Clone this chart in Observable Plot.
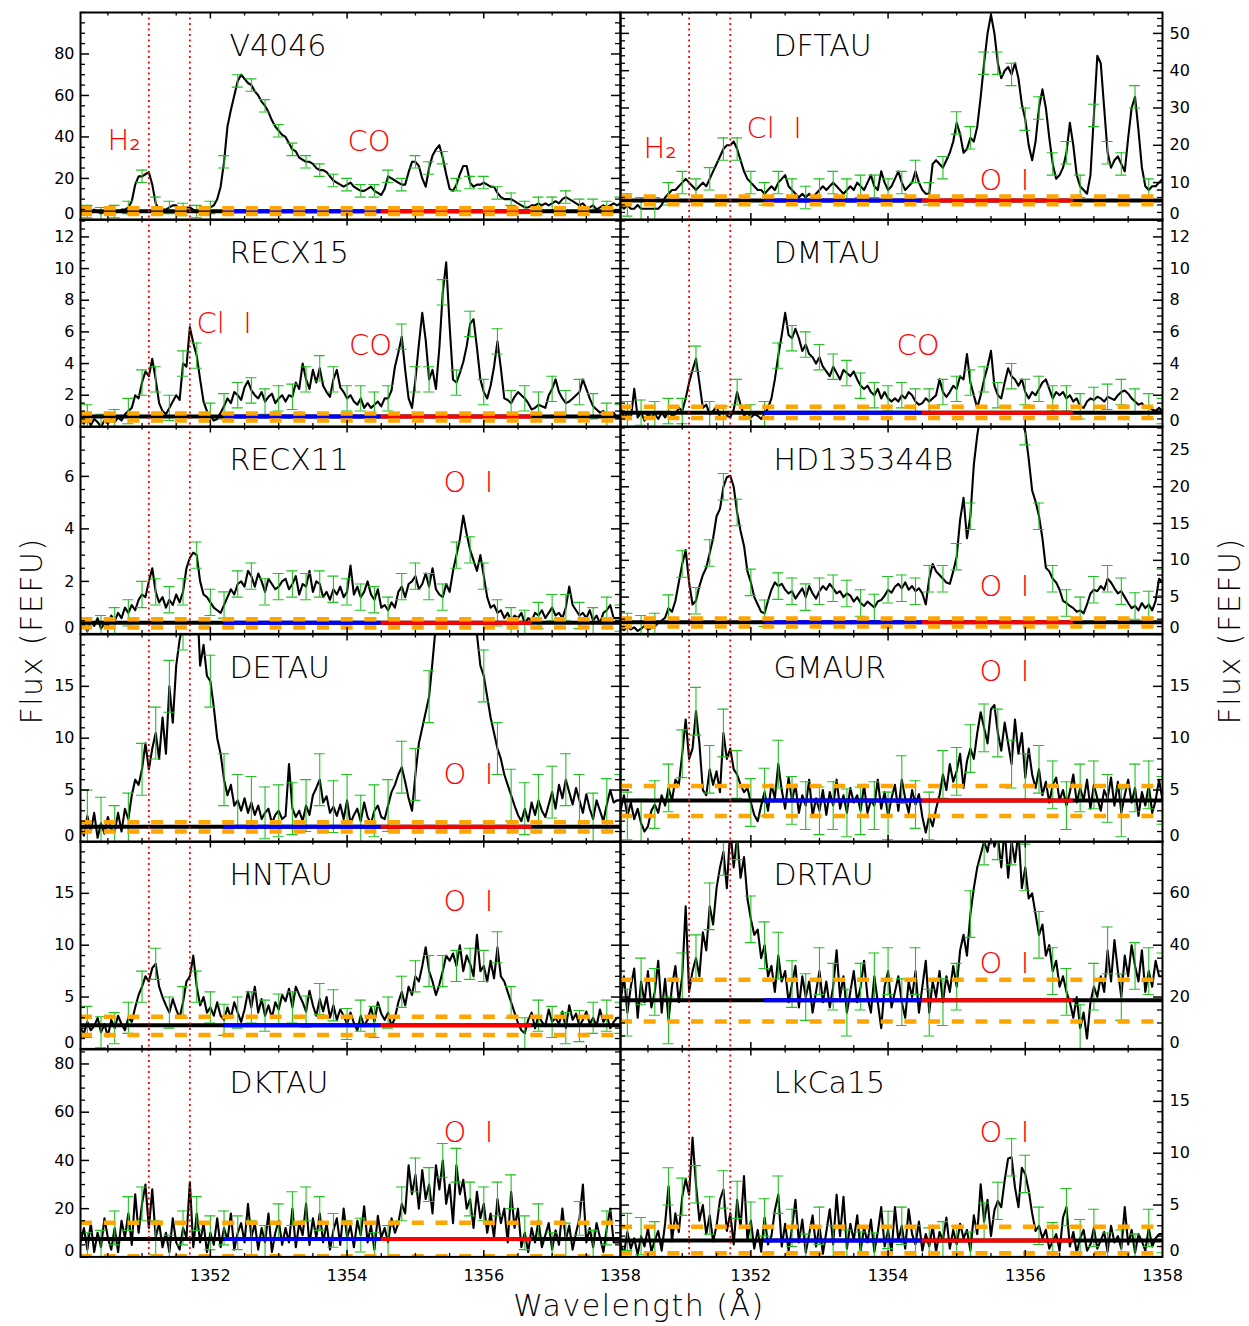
<!DOCTYPE html>
<html><head><meta charset="utf-8">
<script src="https://cdn.jsdelivr.net/npm/d3@7"></script>
<script src="https://cdn.jsdelivr.net/npm/@observablehq/plot@0.6"></script>
<style>
html,body{margin:0;padding:0;background:#fff;}
#fig{position:relative;width:1249px;height:1326px;background:#fff;overflow:hidden;font-family:"DejaVu Sans",sans-serif;}
.title{position:absolute;font-size:30px;letter-spacing:1.5px;color:#000;white-space:nowrap;font-weight:300;}
</style></head><body><div id="fig"></div>
<script>
// ---------------- data ----------------
const waveStart = 1350.1, waveStep = 0.05;
const xDomain = [1350.1, 1358.0];
const lineWaves = [1351.1, 1351.7];          // H2 and Cl I rest wavelengths (dotted)
const blueRange = [1352.2, 1354.5];
const redRange = [1354.5, 1356.7];
const xMajorTicks = [1352, 1354, 1356, 1358];
const xMinorTicks = [1350.5, 1351, 1351.5, 1352.5, 1353, 1353.5, 1354.5, 1355, 1355.5, 1356.5, 1357, 1357.5];

const stars = ["V4046","DFTAU","RECX15","DMTAU","RECX11","HD135344B","DETAU","GMAUR","HNTAU","DRTAU","DKTAU","LkCa15"];
const yMax = [100, 55.6, 13.1, 13.1, 7.9, 28.2, 20, 20, 20, 80, 86, 20];
const yTicks = [[0,20,40,60,80],[0,10,20,30,40,50],[0,2,4,6,8,10,12],[0,2,4,6,8,10,12],[0,2,4,6],
  [0,5,10,15,20,25],[0,5,10,15],[0,5,10,15],[0,5,10,15],[0,20,40,60],[0,20,40,60,80],[0,5,10,15]];
const yMinorStep = [5, 2, 0.5, 0.5, 0.5, 1, 1, 1, 1, 5, 5, 1];
const continuum  = [4.2, 5.2, 0.65, 0.9, 0.42, 1.58, 1.47, 4.0, 2.27, 18.8, 7.4, 1.58];
const upperLevel = [5.6, 6.3, 0.85, 1.27, 0.56, 2.1, 1.9, 5.4, 3.1, 26.7, 14.2, 2.9];
const lowerLevel = [2.8, 4.2, 0.4, 0.56, 0.24, 1.0, 1.0, 2.5, 1.34, 10.6, 0.3, 0.35];
const errSigma   = [3, 3, 0.8, 0.8, 0.5, 1.8, 2.5, 2.3, 1.5, 9, 7, 1.8];
const speciesLabels = [["H₂","CO"],["H₂","Cl\u00a0\u00a0I","O\u00a0\u00a0I"],["Cl\u00a0\u00a0I","CO"],["CO"],["O\u00a0\u00a0I"],["O\u00a0\u00a0I"],
  ["O\u00a0\u00a0I"],["O\u00a0\u00a0I"],["O\u00a0\u00a0I"],["O\u00a0\u00a0I"],["O\u00a0\u00a0I"],["O\u00a0\u00a0I"]];

// flux samples, 10 per row = 0.5 A per row, starting at 1350.10
const fluxV4046 = [
4,5,4,4,5,4,3,4,5,4, 4,4,5,5,6,9,17,21,21,22, 23,17,8,5,5,5,6,7,7,5, 5,6,6,5,4,4,4,5,6,7,
10,16,28,45,53,60,67,70,68,66, 65,62,60,57,55,52,48,45,43,41, 40,37,34,33,30,29,28,28,27,25, 24,24,23,21,19,18,17,16,17,18,
16,15,14,14,15,16,14,13,12,15, 21,20,19,18,17,17,23,28,28,26, 20,16,25,31,34,36,30,22,15,14, 17,22,26,26,18,16,17,17,18,17,
16,16,13,11,10,10,10,9,8,7, 6,6,7,7,8,7,8,7,8,9, 8,10,11,10,9,8,7,8,6,6, 7,5,6,7,6,7,8,7,8,8];
const fluxDFTAU = [
4,3,4,3,3,4,3,3,3,3, 3,3,4,6,7,8,8,9,10,11, 10,9,8,9,10,9,11,13,15,17, 19,20,20,21,19,16,13,11,10,9,
8,8,7,8,9,8,10,11,12,9, 8,7,6,7,6,7,6,7,8,9, 8,9,10,9,8,7,8,9,8,10, 9,8,10,12,9,8,13,10,8,9,
11,13,10,8,9,10,13,10,8,7, 7,15,16,15,14,16,18,21,26,23, 18,19,22,21,25,33,42,50,55,50, 42,38,40,41,39,42,38,31,27,20,
16,21,30,35,30,22,15,11,12,14, 18,26,20,12,9,8,7,12,28,44, 42,30,18,14,16,17,15,13,22,30, 33,24,14,9,8,9,9,10,11,11];
const fluxRECX15 = [
0.4,0.2,0.6,0.1,0.5,0.3,0.0,0.4,0.2,0.5, 0.3,0.6,0.4,0.8,1.0,1.2,2.0,1.8,2.8,3.5, 3.2,4.3,3.0,1.5,1.0,0.8,1.2,1.6,2.0,1.7, 4.0,3.8,6.3,5.3,4.5,3.0,1.6,1.0,0.7,0.4,
0.5,0.9,1.3,1.8,1.5,2.2,2.0,1.7,2.5,2.9, 2.3,2.0,1.8,2.2,1.6,1.9,2.1,1.5,1.8,2.0, 1.6,2.0,1.9,2.8,2.4,4.0,3.0,2.4,3.6,2.8, 3.7,2.6,2.2,1.9,3.0,3.6,2.5,2.2,1.8,2.0,
1.6,1.4,1.8,1.2,1.5,1.2,1.4,1.6,1.3,1.8, 1.8,2.3,3.8,4.7,5.7,3.6,1.8,1.2,3.0,5.2, 7.2,5.5,3.0,3.6,2.4,5.0,8.5,10.4,6.4,3.0, 2.8,3.4,4.1,5.1,6.5,6.8,5.0,3.0,2.2,1.8,
2.6,3.8,5.4,3.7,1.8,1.7,1.5,1.9,2.2,2.0, 1.8,1.5,1.1,1.2,1.4,1.3,1.2,2.0,2.4,3.0, 2.2,1.8,1.5,1.6,1.8,2.0,2.2,3.0,2.4,1.8, 1.3,1.1,0.9,1.0,0.7,0.8,0.9,0.6,0.6,0.6];
const fluxDMTAU = [
1.2,0.6,0.8,0.5,2.4,0.6,0.9,0.4,0.8,0.6, 0.8,0.5,0.9,0.6,1.0,0.7,0.8,1.2,1.0,1.8, 2.8,3.6,4.3,2.8,1.2,1.4,0.8,1.0,1.3,0.6, 0.5,0.7,0.6,1.1,2.2,1.4,0.7,0.9,0.6,0.8,
0.7,0.5,0.8,1.2,1.8,3.0,4.5,5.8,7.2,5.8, 5.6,6.2,5.6,4.8,5.2,4.6,4.4,4.0,4.4,3.8, 3.5,3.2,3.8,3.4,3.0,3.6,3.4,3.2,3.5,3.0, 2.6,2.4,2.6,2.2,2.0,2.4,1.8,2.2,1.8,1.6,
1.8,1.6,2.0,1.8,2.2,2.0,1.6,1.4,1.5,1.8, 1.6,1.8,2.0,3.0,2.2,1.9,2.2,2.6,2.4,3.2, 3.0,4.6,2.8,2.0,1.2,2.0,3.0,3.8,4.8,2.6, 2.0,1.8,2.8,3.7,3.2,3.0,2.6,3.0,2.2,1.8,
2.2,2.0,2.4,2.8,3.0,2.4,1.8,2.2,2.0,2.2, 1.8,2.0,1.6,1.8,1.3,1.2,1.6,1.8,1.7,1.9, 1.8,1.6,1.9,1.8,1.7,2.0,2.2,2.3,2.1,1.8, 1.6,1.4,1.5,1.2,1.3,1.1,1.0,1.2,1.0,1.0];
const fluxRECX11 = [
0.2,0.4,0.1,0.5,0.3,0.6,0.2,0.4,0.3,0.7, 0.5,0.8,0.6,1.0,0.8,1.1,0.9,1.3,1.5,1.4, 2.0,2.5,1.6,1.2,1.4,1.0,1.3,1.1,1.5,1.2, 1.6,2.5,2.9,3.1,3.0,2.0,1.5,1.4,1.2,1.0,
0.9,0.8,1.1,1.4,1.7,1.5,1.9,2.0,1.8,2.4, 2.2,1.8,2.3,2.0,1.6,2.1,1.9,1.7,1.8,2.0, 2.1,1.7,1.9,2.2,1.5,1.9,1.8,2.4,1.6,2.0, 1.9,1.4,1.6,1.3,1.7,1.5,1.8,1.4,1.6,2.6,
1.5,1.8,1.4,1.6,2.0,1.5,1.3,1.7,1.0,1.1, 0.9,1.2,1.0,1.6,1.8,1.4,1.9,2.0,2.2,1.7, 1.9,2.3,1.8,2.5,1.7,1.5,1.4,1.9,1.6,2.4, 3.0,3.6,4.5,3.8,3.2,2.8,2.4,3.0,2.2,1.4,
1.0,1.1,0.8,0.9,0.6,0.8,0.5,0.7,0.6,0.8, 0.4,0.6,0.5,0.8,0.7,0.9,0.6,0.8,1.0,0.7, 0.8,0.6,1.0,1.8,1.1,0.9,0.7,0.8,0.6,0.9, 0.5,0.7,0.4,0.8,0.9,1.1,0.6,0.6,0.6,0.6];
const fluxHD135344B = [
0.8,0.5,1.0,0.6,0.9,0.4,0.7,1.1,0.6,0.8, 1.0,1.5,1.8,2.2,3.5,3.0,4.5,7.0,9.5,11.4, 7.0,4.0,4.5,6.5,8.0,9.0,11.0,13.0,16.0,17.0, 20.0,21.3,21.5,20.0,16.5,14.0,12.0,8.5,7.0,5.0,
4.0,3.0,2.8,4.5,6.0,7.0,6.5,6.8,6.0,5.5, 5.8,4.8,5.5,6.2,5.0,6.5,5.5,4.8,5.8,6.5, 6.0,6.8,6.2,5.5,5.8,5.0,5.5,5.2,4.4,5.0, 4.2,3.8,4.4,4.0,3.6,4.4,4.6,5.2,6.0,5.6,
6.4,6.8,6.2,7.0,6.0,6.5,5.8,6.2,5.5,4.0, 7.5,9.5,8.5,8.0,7.5,7.0,6.8,8.5,10.5,15.5, 18.5,13.0,16.0,23.0,27.0,30.0,34.0,36.0,38.0,38.0, 39,40,39,38,36,34,32,29,27.5,23.8,
19.5,18.0,16.0,13.0,9.0,8.5,7.5,7.0,6.0,4.5, 4.2,3.8,3.5,3.0,3.2,2.8,4.0,5.5,6.0,5.8, 6.5,6.0,7.5,7.0,6.2,5.5,5.8,5.0,4.2,3.5, 3.8,3.2,4.2,3.5,4.0,3.2,4.5,7.5,7.0,7.0];
const fluxDETAU = [
1.5,0.6,2.5,1.0,2.8,0.4,1.8,0.8,2.4,1.2, 1.0,2.8,1.0,3.2,2.2,4.5,6.0,5.5,7.0,9.5, 7.0,9.0,10.5,8.0,12.0,8.5,15.0,11.5,17.0,19.5, 21,25,28,28,24,17,19,16,15.5,13,
10.0,8.5,6.0,4.5,5.5,3.5,4.0,3.0,4.2,2.8, 3.8,2.6,3.5,2.2,2.8,3.2,1.8,2.6,3.0,2.2, 2.5,7.5,3.2,2.4,3.0,2.0,3.5,2.6,4.5,5.2, 6.0,3.8,4.4,2.8,3.4,2.5,3.6,2.2,4.0,1.8,
2.6,3.2,2.0,3.8,2.4,1.8,3.0,3.5,2.4,2.2, 3.5,4.8,5.5,6.5,7.2,5.8,4.2,3.0,6.5,9.5, 11.0,12.5,14.0,17.4,21,24,27,28,30,31, 32,31,30,28,26,22,20,17,16,14,
12.0,10.5,9.0,8.0,6.5,5.5,4.5,3.5,2.6,2.0, 3.2,2.0,3.8,2.6,4.0,3.0,2.4,3.6,4.8,3.2, 5.5,4.2,6.0,4.8,3.6,5.2,4.0,2.8,4.6,3.2, 2.2,4.0,3.0,2.0,3.6,5.0,3.8,4.0,4.0,4.0];
const fluxGMAUR = [
3.0,4.5,2.5,3.8,2.2,3.2,1.8,1.0,1.5,3.0, 3.6,2.8,4.5,3.5,5.2,4.0,6.0,5.5,8.5,11.8, 8.0,9.0,12.6,9.5,5.0,4.5,7.0,5.5,6.8,4.8, 10.5,8.0,9.0,7.0,6.5,5.5,4.8,5.2,3.8,2.6,
2.0,3.5,4.8,3.0,5.5,4.2,7.5,5.0,3.2,6.2, 4.0,5.5,2.8,4.5,3.5,6.0,2.5,4.2,3.0,5.0, 2.6,4.8,3.5,6.0,3.2,4.5,2.8,5.2,3.8,4.5, 3.0,5.5,2.8,4.0,3.5,6.0,3.2,4.8,2.5,4.2,
5.5,3.0,6.0,4.2,2.8,5.0,3.6,4.6,2.4,0.9, 2.5,1.5,3.2,4.5,6.5,5.0,7.5,5.8,6.8,8.5, 5.2,7.8,9.0,8.0,10.5,12.5,11.0,9.5,12.8,13.2, 10.5,8.8,11.5,9.5,7.5,11.8,8.5,10.5,6.2,9.0,
6.5,5.2,7.0,4.5,5.8,3.8,5.5,6.2,4.0,5.0, 3.5,4.8,6.5,3.8,5.2,4.0,6.0,3.2,5.5,4.2, 3.0,5.0,4.2,6.2,3.5,5.8,2.8,4.5,6.0,3.8, 5.2,2.5,4.8,3.5,5.5,2.8,4.0,6.0,4.0,4.0];
const fluxHNTAU = [
2.0,1.5,2.6,1.8,2.2,3.0,1.6,2.4,1.2,2.8, 2.0,3.2,2.4,1.8,3.0,2.6,4.0,5.2,6.0,7.0, 6.5,7.8,8.2,6.0,5.0,4.2,3.5,4.8,3.8,3.0, 4.5,6.5,7.0,9.0,6.0,4.2,5.0,3.5,4.0,3.2,
4.5,3.2,2.8,4.0,3.0,4.5,3.5,2.6,3.8,5.5, 4.0,6.0,3.5,4.8,3.2,4.2,3.0,4.5,3.8,5.2, 4.6,5.8,4.0,6.0,5.2,4.5,3.6,5.6,4.2,3.2, 4.8,3.6,5.0,3.0,4.2,2.8,3.8,3.2,2.4,3.5,
2.5,1.8,3.2,2.2,2.8,4.0,2.6,4.5,3.4,2.8, 3.5,2.2,3.0,4.5,5.5,4.2,6.0,5.2,7.0,6.5, 8.0,9.8,7.5,6.5,5.2,6.2,7.5,9.0,8.5,9.2, 8.0,10.0,7.5,9.0,8.2,7.0,11.0,7.5,8.0,6.5,
8.5,6.8,9.8,7.0,6.5,5.5,4.5,3.5,2.5,1.8, 1.5,2.8,3.5,2.0,3.2,2.6,2.2,3.8,2.6,3.0, 2.4,3.6,2.0,4.2,2.8,3.4,2.2,2.8,3.6,2.4, 3.0,2.2,3.8,2.6,3.2,2.0,2.6,3.0,3.0,3.0];
const fluxDRTAU = [
18,28,14,24,31,12,26,18,30,16, 22,34,14,27,11,24,32,18,28,55, 22,30,35,28,45,38,55,48,62,70, 76,62,85,70,82,66,74,58,50,44,
46,35,40,28,32,22,36,26,30,18, 25,32,16,28,20,26,14,22,30,18, 26,16,24,38,20,28,14,22,30,18, 24,34,20,14,28,18,8,24,30,16,
22,28,18,12,26,20,30,14,24,34, 14,26,20,30,18,28,22,32,24,38, 44,36,52,62,70,75,80,76,84,78, 82,70,85,66,80,72,84,62,70,58,
60,52,44,48,36,40,30,34,24,28, 22,18,12,20,8,14,4,18,24,20, 28,22,38,26,42,30,20,36,28,40, 32,26,38,22,30,24,34,28,28,28];
const fluxDKTAU = [
6,12,3,14,2,10,4,16,8,3, 12,2,15,8,18,5,26,10,22,30, 12,28,8,14,4,10,2,16,6,3, 12,8,31,4,18,6,14,2,10,5,
16,4,12,7,18,3,10,14,6,22, 8,14,3,12,6,18,2,10,15,5, 12,6,20,4,14,9,22,5,16,8, 18,6,14,3,11,16,5,20,8,13,
4,15,9,21,6,13,3,17,8,12, 6,16,10,14,22,18,38,26,34,20, 36,24,30,18,38,28,40,22,30,14, 38,26,32,20,24,12,27,16,22,10,
18,8,24,14,20,6,27,12,20,4, 10,2,12,6,15,4,9,14,3,11, 5,20,7,13,3,10,16,30,6,12, 4,14,8,2,12,20,6,6,6,6];
const fluxLkCa15 = [
1.2,0.3,2.4,0.8,1.8,0.2,2.0,1.0,2.8,0.5, 1.6,2.5,0.6,3.2,6.8,1.5,4.2,2.4,5.8,7.5, 6.0,11.5,7.0,3.5,5.0,2.2,4.0,1.5,3.0,5.5, 6.5,2.5,4.2,1.2,5.5,2.8,7.8,1.6,3.5,0.8,
2.6,0.5,3.8,1.2,2.0,4.5,6.0,1.0,3.2,0.6, 2.8,5.5,1.4,3.6,0.4,2.2,4.0,1.0,3.0,0.3, 2.4,4.6,1.2,6.0,2.0,5.8,0.8,3.2,1.6,4.0, 0.6,2.8,1.4,3.6,0.5,2.4,4.8,1.0,2.6,0.4,
4.8,1.6,3.0,0.8,4.6,2.2,1.2,3.4,0.6,2.2, 1.0,3.0,0.5,2.4,1.6,3.8,0.8,2.6,1.2,3.2, 1.8,2.6,0.6,4.0,2.2,7.0,3.4,5.5,2.0,4.5, 5.4,4.8,7.4,9.5,9.6,6.7,4.8,8.6,8.0,6.4,
4.2,2.5,3.0,1.8,2.6,0.8,1.5,2.2,0.6,3.8, 4.8,1.0,2.4,0.4,1.8,2.6,0.6,1.2,2.8,0.8, 1.6,2.4,0.5,3.0,1.4,2.0,0.8,4.8,1.2,2.6, 0.4,2.2,1.5,0.6,2.8,1.0,1.8,2.2,2.2,2.2];
const fluxes = [fluxV4046, fluxDFTAU, fluxRECX15, fluxDMTAU, fluxRECX11, fluxHD135344B,
  fluxDETAU, fluxGMAUR, fluxHNTAU, fluxDRTAU, fluxDKTAU, fluxLkCa15];

// ---------------- layout ----------------
const ROW_TOP = 11.5, ROW_H = 207.4;
const FRAME = {L: [80, 620], R: [620, 1162]};
const nameDx = {L: 149, R: 153}, nameDy = 43.5;
const labelPos = [[[27,137.5],[267,138.5]], [[23,145.5],[126,125.5],[359,177.5]], [[116,113.8],[268.5,135.8]], [[276,135.8]],
  [[363,65.4]], [[359,169.4]], [[363,150]], [[359,46.3]], [[363,69.2]], [[359,131.9]], [[363,92.2]], [[359,92.2]]];
const GREEN = "#22c022", FONT = "DejaVu Sans, sans-serif";

const fig = document.getElementById("fig");

stars.forEach((name, k) => {
  const side = k % 2 === 0 ? "L" : "R";
  const row = Math.floor(k / 2);
  const [fx0, fx1] = FRAME[side];
  const W = fx1 - fx0, H = ROW_H;
  const top = ROW_TOP + row * ROW_H;
  const ml = 70, mr = 70, mt = 10, mb = 50;
  const ymax = yMax[k];
  const ux = (xDomain[1] - xDomain[0]) / W;   // data units per px
  const uy = ymax / H;
  const pts = fluxes[k].map((v, i) => ({x: waveStart + i * waveStep, y: v}));
  const errPts = pts.filter((d, i) => i % 4 === 2 && d.x <= xDomain[1]);
  const s = errSigma[k];
  const majors = yTicks[k];
  const minors = d3.range(0, ymax + 1e-9, yMinorStep[k]).filter(v => !majors.some(m => Math.abs(m - v) < 1e-6));
  const L = side === "L";
  const marks = [
    Plot.line(pts, {x: "x", y: "y", stroke: "black", strokeWidth: 2.1, clip: true}),
    Plot.ruleX(errPts, {x: "x", y1: d => d.y - s, y2: d => d.y + s, stroke: GREEN, strokeWidth: 1.1, clip: true}),
    Plot.ruleY(errPts, {y: d => d.y + s, x1: d => d.x - 5.5 * ux, x2: d => d.x + 5.5 * ux, stroke: GREEN, strokeWidth: 1.1, clip: true}),
    Plot.ruleY(errPts, {y: d => d.y - s, x1: d => d.x - 5.5 * ux, x2: d => d.x + 5.5 * ux, stroke: GREEN, strokeWidth: 1.1, clip: true}),
    Plot.ruleY([continuum[k]], {y: d => d, x1: xDomain[0], x2: xDomain[1], stroke: "black", strokeWidth: 4}),
    Plot.ruleY([continuum[k]], {y: d => d, x1: blueRange[0], x2: blueRange[1], stroke: "#0000ff", strokeWidth: 4}),
    Plot.ruleY([continuum[k]], {y: d => d, x1: redRange[0], x2: redRange[1], stroke: "#ff0000", strokeWidth: 4}),
    Plot.ruleY([upperLevel[k], lowerLevel[k]], {y: d => d, stroke: "#ffa500", strokeWidth: 4.5, strokeDasharray: "12,11.7", clip: true}),
    Plot.ruleX(lineWaves, {x: d => d, stroke: "#ff0000", strokeWidth: 1.8, strokeDasharray: "2,3.5"}),
    Plot.frame({stroke: "black", strokeWidth: 2}),
    // y ticks, both sides, inward
    Plot.ruleY(majors, {y: d => d, x1: xDomain[0], x2: xDomain[0] + 9 * ux, stroke: "black", strokeWidth: 1.5}),
    Plot.ruleY(majors, {y: d => d, x1: xDomain[1] - 9 * ux, x2: xDomain[1], stroke: "black", strokeWidth: 1.5}),
    Plot.ruleY(minors, {y: d => d, x1: xDomain[0], x2: xDomain[0] + 5 * ux, stroke: "black", strokeWidth: 1.3}),
    Plot.ruleY(minors, {y: d => d, x1: xDomain[1] - 5 * ux, x2: xDomain[1], stroke: "black", strokeWidth: 1.3}),
    // x ticks, top and bottom, inward
    Plot.ruleX(xMajorTicks.filter(v => v < xDomain[1]), {x: d => d, y1: 0, y2: 6.5 * uy, stroke: "black", strokeWidth: 1.5}),
    Plot.ruleX(xMajorTicks.filter(v => v < xDomain[1]), {x: d => d, y1: ymax - 6.5 * uy, y2: ymax, stroke: "black", strokeWidth: 1.5}),
    Plot.ruleX(xMinorTicks, {x: d => d, y1: 0, y2: 3.5 * uy, stroke: "black", strokeWidth: 1.3}),
    Plot.ruleX(xMinorTicks, {x: d => d, y1: ymax - 3.5 * uy, y2: ymax, stroke: "black", strokeWidth: 1.3}),
    // y tick labels
    Plot.text(majors.filter(v => v !== 0), {y: d => d, text: d => String(d), frameAnchor: L ? "left" : "right",
      dx: L ? -6 : 7, textAnchor: L ? "end" : "start", lineAnchor: "middle", fontSize: 16, fill: "black"}),
    Plot.text([0], {y: d => d, text: d => String(d), frameAnchor: L ? "left" : "right",
      dx: L ? -6 : 7, dy: -6, textAnchor: L ? "end" : "start", lineAnchor: "middle", fontSize: 16, fill: "black"}),
    // star name
    Plot.text([name], {text: d => d, frameAnchor: "top-left", dx: nameDx[side], dy: nameDy,
      textAnchor: "start", lineAnchor: "bottom", fontSize: 30, fill: "black", fontWeight: 300})
  ];
  speciesLabels[k].forEach((t, j) => {
    const [ldx, ldy] = labelPos[k][j];
    marks.push(Plot.text([t], {text: d => d, frameAnchor: "top-left", dx: ldx, dy: ldy,
      textAnchor: "start", lineAnchor: "bottom", fontSize: 29, fill: "#ff0000", fontWeight: 300}));
  });
  if (row === 5) {
    marks.push(Plot.text(xMajorTicks, {x: d => d, text: d => String(d), frameAnchor: "bottom", dy: 19,
      lineAnchor: "middle", fontSize: 16, fill: "black"}));
  }
  const svg = Plot.plot({
    width: W + ml + mr, height: H + mt + mb,
    marginLeft: ml, marginRight: mr, marginTop: mt, marginBottom: mb,
    x: {domain: xDomain, axis: null},
    y: {domain: [0, ymax], axis: null},
    style: {background: "none", overflow: "visible", fontFamily: FONT},
    marks
  });
  svg.style.position = "absolute";
  svg.style.left = (fx0 - ml) + "px";
  svg.style.top = (top - mt) + "px";
  svg.style.maxWidth = "none";
  fig.appendChild(svg);
});

// axis titles
function addTitle(text, x, y, rot) {
  const d = document.createElement("div");
  d.className = "title";
  d.textContent = text;
  d.style.left = x + "px";
  d.style.top = y + "px";
  d.style.transform = "translate(-50%,-50%)" + (rot ? " rotate(-90deg)" : "");
  fig.appendChild(d);
}
addTitle("Flux (FEFU)", 31, 631, true);
addTitle("Flux (FEFU)", 1229, 631, true);
addTitle("Wavelength (Å)", 639, 1305, false);
</script>
</body></html>
